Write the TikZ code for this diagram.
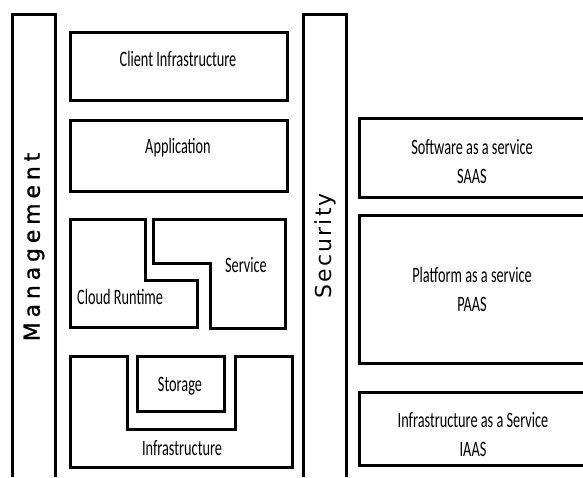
\documentclass[tikz,border=0pt]{standalone}
\usepackage{fontspec}
\newfontfamily\boxfont[FakeStretch=0.65]{Carlito}
\newfontfamily\barfontA[LetterSpace=22,FakeBold=1]{DejaVu Sans}
\newfontfamily\barfontB[LetterSpace=10]{DejaVu Sans}
\begin{document}
\begin{tikzpicture}[x=1pt,y=-1pt,
  line join=miter,
  frame/.style={draw=black,line width=3pt},
  lbl/.style={font=\boxfont\fontsize{22}{29}\selectfont,inner sep=0pt,align=center},
  barlbl/.style={rotate=90,inner sep=0pt}]
\useasboundingbox (0,0) rectangle (583,477);
% vertical bars
\draw[frame] (12,477) -- (12,14) -- (55,14) -- (55,477);
\node[barlbl,font=\barfontA\fontsize{22}{26}\selectfont] (mgmt) at (34,247) {Management};
\draw[frame] (303,477) -- (303,14) -- (346,14) -- (346,477);
\node[barlbl,font=\barfontB\fontsize{22}{26}\selectfont] (sec) at (325,246) {Security};
% left stack
\draw[frame] (70,32) rectangle (287,100);
\node[lbl] (client) at (178,59) {Client Infrastructure};
\draw[frame] (70,120) rectangle (287,191);
\node[lbl] (app) at (178,148) {Application};
\draw[frame] (70,219) -- (145,219) -- (145,280) -- (197,280) -- (197,327) -- (70,327) -- cycle;
\node[lbl,anchor=west] (cloud) at (77,297) {Cloud Runtime};
\draw[frame] (153,219) -- (285,219) -- (285,328) -- (210,328) -- (210,263) -- (153,263) -- cycle;
\node[lbl] (svc) at (246,265) {Service};
\draw[frame] (70,356) -- (127,356) -- (127,429) -- (235,429) -- (235,356) -- (292,356) -- (292,467) -- (70,467) -- cycle;
\node[lbl] (infra) at (182,448) {Infrastructure};
\draw[frame] (137,356) rectangle (224,411);
\node[lbl] (stor) at (180,386) {Storage};
% right stack
\draw[frame] (585,118) -- (359,118) -- (359,197) -- (585,197);
\node[lbl] (saas) at (472,162) {Software as a service\\SAAS};
\draw[frame] (585,215) -- (359,215) -- (359,363) -- (585,363);
\node[lbl] (paas) at (472,289) {Platform as a service\\PAAS};
\draw[frame] (585,392) -- (359,392) -- (359,465) -- (585,465);
\node[lbl] (iaas) at (473,434) {Infrastructure as a Service\\IAAS};
\end{tikzpicture}
\end{document}
